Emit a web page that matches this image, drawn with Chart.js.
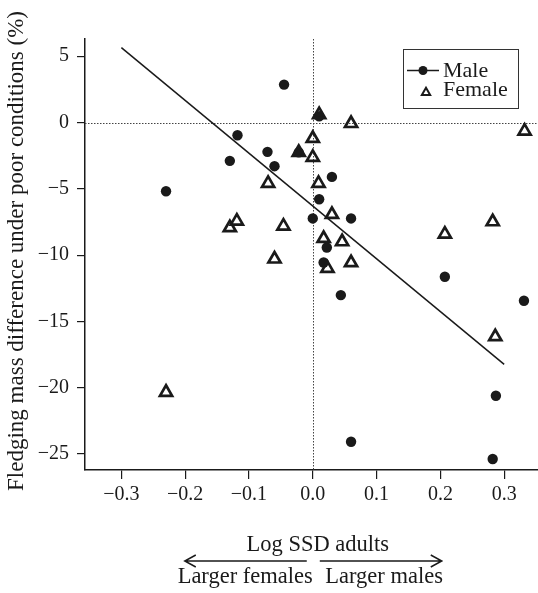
<!DOCTYPE html>
<html><head><meta charset="utf-8">
<script src="https://cdn.jsdelivr.net/npm/chart.js@4"></script>
<style>html,body{margin:0;padding:0;background:#fff}#wrap{width:538px;height:593px}</style>
</head><body><div id="wrap"><canvas id="c" width="538" height="593"></canvas></div>
<script>
const seriesNames = ['Male', 'Female'];
const maleX = [-0.230, -0.130, -0.118, -0.071, -0.060, -0.045, -0.022, 0.000, 0.010, 0.010, 0.030, 0.017, 0.022, 0.044, 0.060, 0.060, 0.207, 0.282, 0.287, 0.331];
const maleY = [-5.18, -2.89, -0.96, -2.21, -3.29, 2.86, -2.25, -7.23, 0.47, -5.78, -4.10, -10.55, -9.42, -13.01, -7.23, -24.07, -11.63, -25.37, -20.60, -13.44];
const femaleX = [-0.230, -0.130, -0.119, -0.070, -0.060, -0.046, -0.022, 0.000, 0.000, 0.010, 0.009, 0.030, 0.017, 0.023, 0.046, 0.060, 0.060, 0.207, 0.282, 0.286, 0.332];
const femaleY = [-20.34, -7.93, -7.43, -4.59, -10.29, -7.81, -2.26, -1.20, -2.63, 0.60, -4.59, -6.93, -8.74, -11.00, -8.99, -0.07, -10.57, -8.41, -7.48, -16.15, -0.65];
const fitX = [-0.30, 0.30];
const fitY = [5.65, -18.24];
const xTicks = [-0.3, -0.2, -0.1, 0.0, 0.1, 0.2, 0.3];
const yTicks = [5, 0, -5, -10, -15, -20, -25];
const xTitle = 'Log SSD adults';
const yTitle = 'Fledging mass difference under poor conditions (%)';
const leftNote = 'Larger females';
const rightNote = 'Larger males';
const refX = 0, refY = 0;

const INK = '#1a1a1a';
const SERIF = '"Liberation Serif", "DejaVu Serif", serif';
const minus = v => (v < 0 ? '\u2212' : '');

const pts = (xs, ys) => xs.map((x, i) => ({x: x, y: ys[i]}));

const decor = {
  id: 'decor',
  beforeDatasetsDraw(chart) {
    const {ctx, chartArea: a, scales: {x, y}} = chart;
    ctx.save();
    ctx.strokeStyle = '#444';
    ctx.lineWidth = 1;
    ctx.setLineDash([1.5, 1.5]);
    const px = Math.round(x.getPixelForValue(refX)) + 0.5;
    const py = Math.round(y.getPixelForValue(refY)) + 0.5;
    ctx.beginPath(); ctx.moveTo(px, a.top); ctx.lineTo(px, a.bottom); ctx.stroke();
    ctx.beginPath(); ctx.moveTo(a.left, py); ctx.lineTo(a.right, py); ctx.stroke();
    ctx.restore();
  },
  afterDraw(chart) {
    const {ctx, chartArea: a, scales: {x, y}} = chart;
    ctx.save();
    ctx.fillStyle = INK; ctx.strokeStyle = INK;
    // y title
    ctx.save();
    ctx.translate(17, 251);
    ctx.rotate(-Math.PI / 2);
    ctx.font = '23px ' + SERIF;
    ctx.textAlign = 'center'; ctx.textBaseline = 'middle';
    ctx.fillText(yTitle, 0, 0);
    ctx.restore();
    // x title & arrows
    const zx = x.getPixelForValue(0);
    ctx.font = '22.5px ' + SERIF;
    ctx.textBaseline = 'alphabetic';
    ctx.textAlign = 'center';
    ctx.fillText(xTitle, zx + 5, 551);
    ctx.textAlign = 'right';
    ctx.fillText(leftNote, zx + 0, 583);
    ctx.textAlign = 'left';
    ctx.fillText(rightNote, zx + 12.5, 583);
    ctx.lineWidth = 1.5;
    const ay = 561;
    const l0 = zx - 128, l1 = zx - 6, r0 = zx + 7, r1 = zx + 129;
    ctx.beginPath();
    ctx.moveTo(l1, ay); ctx.lineTo(l0, ay);
    ctx.moveTo(l0 + 11, ay - 6); ctx.lineTo(l0, ay); ctx.lineTo(l0 + 11, ay + 6);
    ctx.moveTo(r0, ay); ctx.lineTo(r1, ay);
    ctx.moveTo(r1 - 11, ay - 6); ctx.lineTo(r1, ay); ctx.lineTo(r1 - 11, ay + 6);
    ctx.stroke();
    // legend
    ctx.lineWidth = 1;
    ctx.strokeStyle = '#333';
    ctx.strokeRect(403.5, 49.5, 115, 59);
    ctx.strokeStyle = INK;
    ctx.lineWidth = 1.5;
    ctx.beginPath(); ctx.moveTo(407, 70.5); ctx.lineTo(439, 70.5); ctx.stroke();
    ctx.beginPath(); ctx.arc(423, 70.5, 4.5, 0, Math.PI * 2); ctx.fill();
    ctx.lineWidth = 2;
    const tr = 4.8, tx = 426, ty = 92.5;
    ctx.beginPath();
    ctx.moveTo(tx, ty - tr);
    ctx.lineTo(tx + tr * Math.sin(2 * Math.PI / 3), ty - tr * Math.cos(2 * Math.PI / 3));
    ctx.lineTo(tx + tr * Math.sin(4 * Math.PI / 3), ty - tr * Math.cos(4 * Math.PI / 3));
    ctx.closePath(); ctx.stroke();
    ctx.font = '22px ' + SERIF;
    ctx.textAlign = 'left'; ctx.textBaseline = 'alphabetic';
    ctx.fillText(seriesNames[0], 443, 77);
    ctx.fillText(seriesNames[1], 443, 96);
    ctx.restore();
  }
};

new Chart(document.getElementById('c'), {
  type: 'scatter',
  data: {
    datasets: [
      {label: seriesNames[1], data: pts(femaleX, femaleY), pointStyle: 'triangle', pointRadius: 7,
        borderColor: INK, borderWidth: 2.7, backgroundColor: 'rgba(0,0,0,0)', order: 1},
      {label: seriesNames[0], data: pts(maleX, maleY), pointStyle: 'circle', pointRadius: 5.2,
        backgroundColor: INK, borderWidth: 0, order: 2},
      {type: 'line', label: 'fit', data: pts(fitX, fitY), borderColor: INK, borderWidth: 1.5,
        pointRadius: 0, fill: false, order: 3}
    ]
  },
  options: {
    responsive: false, animation: false, devicePixelRatio: 1,
    layout: {autoPadding: false, padding: {top: 39, left: 0, right: 0, bottom: 0}},
    plugins: {legend: {display: false}, tooltip: {enabled: false}},
    scales: {
      x: {
        type: 'linear', min: -0.357, max: 0.353,
        afterBuildTicks: s => { s.ticks = xTicks.map(v => ({value: v})); },
        afterFit: s => { s.height = 123; s.paddingLeft = 0; s.paddingRight = 0; },
        grid: {display: true, drawOnChartArea: false, drawTicks: true, tickLength: 9, color: INK, lineWidth: 1.2},
        border: {display: true, color: INK, width: 1.5},
        ticks: {color: INK, padding: 4, maxRotation: 0, autoSkip: false,
          font: {family: SERIF, size: 20},
          callback: v => minus(v) + Math.abs(v).toFixed(1)}
      },
      y: {
        type: 'linear', min: -26.2, max: 6.3,
        afterBuildTicks: s => { s.ticks = yTicks.map(v => ({value: v})); },
        afterFit: s => { s.width = 85; s.paddingTop = 0; s.paddingBottom = 0; },
        grid: {display: true, drawOnChartArea: false, drawTicks: true, tickLength: 8, color: INK, lineWidth: 1.2},
        border: {display: true, color: INK, width: 1.5},
        ticks: {color: INK, padding: 8, autoSkip: false,
          font: {family: SERIF, size: 20},
          callback: v => minus(v) + Math.abs(v)}
      }
    }
  },
  plugins: [decor]
});
</script>
</body></html>
